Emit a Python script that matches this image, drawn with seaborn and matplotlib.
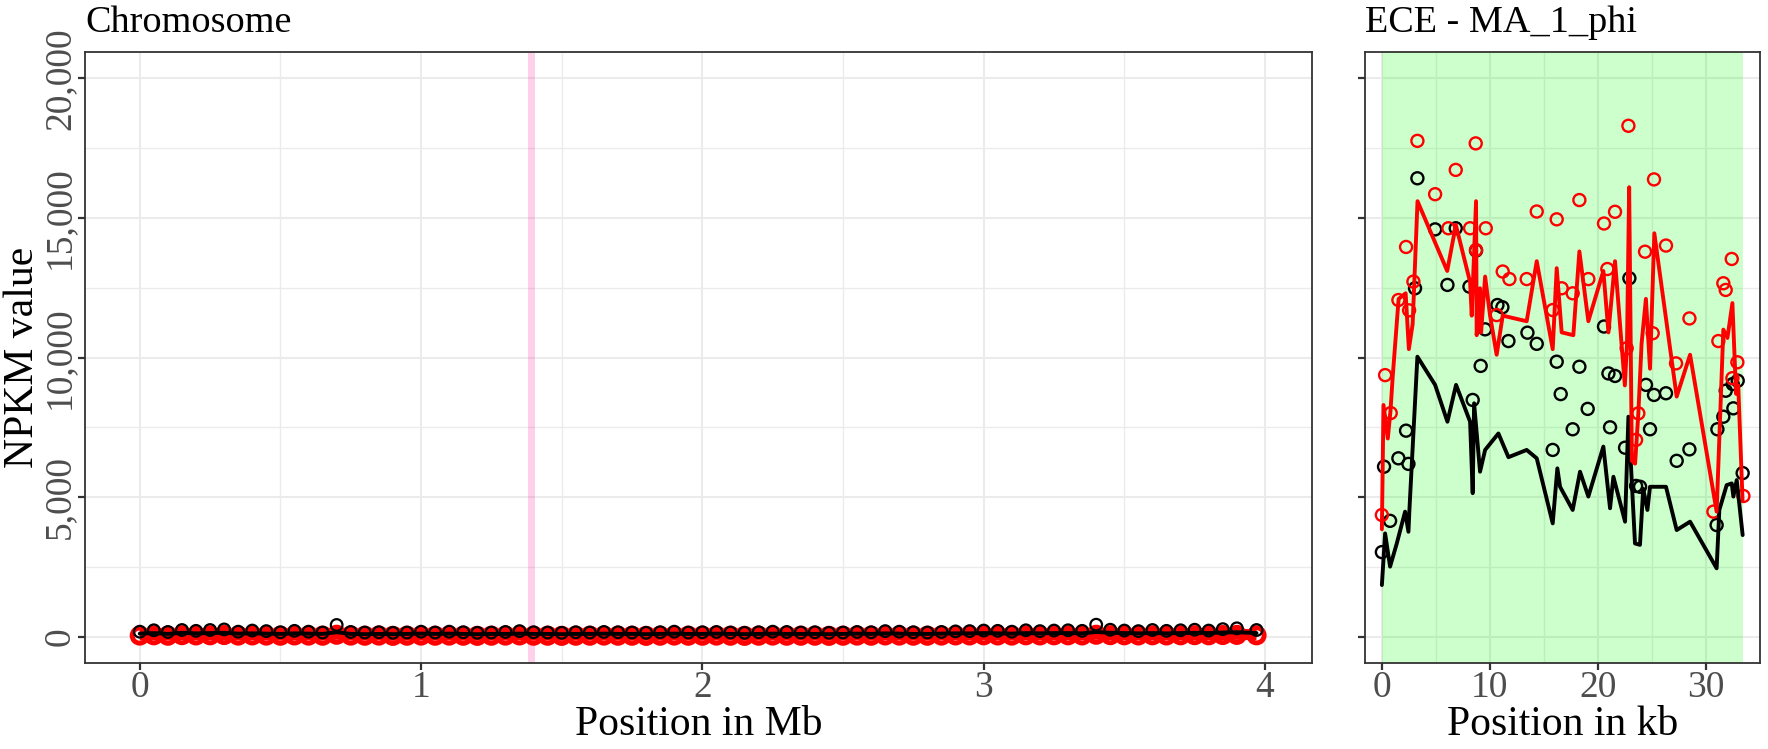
import numpy as np
import pandas as pd
import seaborn as sns
import matplotlib.pyplot as plt

# ---- chromosome panel (positions in Mb, NPKM values) ----
chrom_mb = [0.00, 0.05, 0.10, 0.15, 0.20, 0.25, 0.30, 0.35, 0.40, 0.45,
            0.50, 0.55, 0.60, 0.65, 0.70, 0.75, 0.80, 0.85, 0.90, 0.95,
            1.00, 1.05, 1.10, 1.15, 1.20, 1.25, 1.30, 1.35, 1.40, 1.45,
            1.50, 1.55, 1.60, 1.65, 1.70, 1.75, 1.80, 1.85, 1.90, 1.95,
            2.00, 2.05, 2.10, 2.15, 2.20, 2.25, 2.30, 2.35, 2.40, 2.45,
            2.50, 2.55, 2.60, 2.65, 2.70, 2.75, 2.80, 2.85, 2.90, 2.95,
            3.00, 3.05, 3.10, 3.15, 3.20, 3.25, 3.30, 3.35, 3.40, 3.45,
            3.50, 3.55, 3.60, 3.65, 3.70, 3.75, 3.80, 3.85, 3.90, 3.97]
chrom_black_pts = [180, 230, 170, 240, 210, 240, 260, 180, 220, 200,
                   160, 210, 180, 150, 420, 170, 150, 160, 140, 150,
                   180, 150, 180, 160, 140, 150, 170, 200, 160, 150,
                   140, 160, 150, 170, 160, 150, 140, 160, 180, 150,
                   160, 170, 150, 140, 160, 180, 170, 150, 160, 140,
                   150, 170, 160, 200, 180, 160, 150, 170, 190, 200,
                   220, 210, 180, 230, 200, 220, 230, 210, 430, 250,
                   220, 200, 240, 210, 230, 250, 220, 270, 300, 240]
chrom_black_line = [110, 130, 100, 140, 120, 130, 140, 110, 120, 110,
                    100, 120, 110, 100, 160, 100, 90, 100, 90, 100,
                    110, 100, 110, 100, 90, 100, 100, 110, 100, 100,
                    90, 100, 100, 110, 100, 100, 90, 100, 110, 100,
                    100, 110, 100, 90, 100, 110, 100, 100, 100, 90,
                    100, 110, 100, 120, 110, 100, 100, 110, 120, 120,
                    130, 120, 110, 130, 120, 130, 130, 120, 170, 140,
                    130, 120, 130, 120, 130, 140, 130, 150, 160, 130]
chrom_red_pts = [40, 50, 35, 55, 45, 50, 60, 40, 45, 40,
                 35, 45, 40, 35, 70, 40, 35, 40, 30, 35,
                 40, 35, 40, 35, 30, 35, 40, 45, 35, 35,
                 30, 35, 35, 40, 35, 35, 30, 35, 40, 35,
                 35, 40, 35, 30, 35, 40, 35, 35, 35, 30,
                 35, 40, 35, 45, 40, 35, 35, 40, 45, 45,
                 50, 45, 40, 50, 45, 50, 50, 45, 70, 55,
                 50, 45, 50, 45, 50, 55, 50, 60, 65, 50]
chrom_red_line = [60, 70, 55, 75, 65, 70, 80, 60, 65, 60,
                  55, 65, 60, 55, 90, 60, 55, 60, 50, 55,
                  60, 55, 60, 55, 50, 55, 60, 65, 55, 55,
                  50, 55, 55, 60, 55, 55, 50, 55, 60, 55,
                  55, 60, 55, 50, 55, 60, 55, 55, 55, 50,
                  55, 60, 55, 65, 60, 55, 55, 60, 65, 65,
                  70, 65, 60, 70, 65, 70, 70, 65, 90, 75,
                  70, 65, 70, 65, 70, 75, 70, 80, 85, 70]
ece_mark_mb = 1.39

# ---- ECE panel (positions in kb) ----
red_line_kb = [0.0, 0.15, 0.55, 0.8, 1.0, 1.55, 2.2, 2.5, 2.85, 3.3, 6.05, 6.85,
               8.17, 8.32, 8.72, 8.78, 9.09, 9.19, 9.56, 10.02, 10.63, 11.19,
               13.41, 14.34, 15.82, 16.19, 16.65, 17.73, 18.29, 19.12, 20.51,
               20.98, 21.59, 22.5, 22.7, 22.9, 23.15, 23.45, 23.75, 24.05, 24.45,
               24.83, 25.23, 27.3, 28.54, 31.0, 31.62, 32.0, 32.46, 32.8, 33.0, 33.4]
red_line_val = [3850, 8300, 7100, 8100, 9300, 12100, 12300, 10300, 11200, 15600, 13100, 14750,
                12700, 11500, 15600, 10800, 12480, 10900, 12900, 11500, 10100, 11500,
                11300, 13450, 10300, 13200, 10900, 10800, 13800, 11300, 13100,
                10900, 13450, 9000, 10500, 16100, 6300, 6200, 8000, 10500, 12100,
                9600, 14450, 8600, 10100, 4480, 11000, 10700, 11950, 8700, 9000, 4900]

black_line_kb = [0.0, 0.3, 0.76, 1.38, 2.15, 2.46, 2.55, 3.29, 4.93, 6.07, 6.87, 8.17,
                 8.41, 8.54, 9.09, 9.56, 10.79, 11.72, 13.41, 14.34, 15.82, 16.25,
                 16.5, 17.67, 18.35, 19.12, 20.51, 21.13, 21.44, 22.52, 22.83, 23.44,
                 23.9, 24.2, 24.59, 24.83, 25.3, 26.31, 27.3, 28.54, 31.0, 31.25,
                 31.93, 32.4, 32.55, 32.86, 33.41]
black_line_val = [1850, 3700, 2510, 3340, 4480, 3760, 4540, 10030, 9020, 7700, 9020, 7700,
                  5140, 8360, 5910, 6690, 7280, 6430, 6690, 6390, 4060, 6030,
                  5370, 4540, 5910, 5020, 6810, 4600, 5730, 4120, 7880, 3340,
                  3290, 5300, 4540, 5370, 5370, 5370, 3820, 4120, 2450, 4540,
                  5430, 5490, 5020, 5610, 3640]

red_pts_kb = [0.0, 0.30, 0.82, 1.53, 2.24, 2.52, 2.92, 3.29, 4.93, 6.16, 6.84, 8.17,
              8.69, 8.72, 9.62, 10.63, 11.19, 11.81, 13.41, 14.34, 15.82, 16.19,
              16.65, 17.67, 18.29, 19.12, 20.57, 20.88, 21.59, 22.67, 22.83, 23.54,
              23.75, 24.37, 25.08, 25.20, 26.31, 27.24, 28.48, 30.70, 31.16, 31.62,
              31.84, 32.40, 32.46, 32.92, 33.48]
red_pts_val = [4360, 9370, 8010, 12060, 13960, 11690, 12720, 17760, 15850, 14630, 16720, 14630,
               17670, 13850, 14630, 11520, 13080, 12810, 12810, 15230, 11700, 14950,
               12480, 12300, 15640, 12810, 14800, 13170, 15220, 10330, 18300, 7050,
               8000, 13790, 10870, 16380, 14010, 9790, 11400, 4480, 10590, 12660,
               12420, 13530, 9260, 9830, 5040]

black_pts_kb = [0.0, 0.20, 0.76, 1.53, 2.24, 2.46, 3.07, 3.29, 4.93, 6.07, 6.84, 8.11,
                8.41, 8.72, 9.15, 9.56, 10.70, 11.16, 11.72, 13.48, 14.34, 15.82,
                16.19, 16.56, 17.67, 18.29, 19.06, 20.57, 20.98, 21.13, 21.59, 22.52,
                22.92, 23.54, 23.91, 24.46, 24.83, 25.20, 26.31, 27.30, 28.48, 31.00,
                31.07, 31.62, 31.84, 32.49, 32.55, 32.95, 33.41]
black_pts_val = [3030, 6090, 4150, 6390, 7380, 6190, 12480, 16420, 14590, 12600, 14630, 12540,
                 8480, 13830, 9700, 11010, 11880, 11800, 10590, 10890, 10490, 6690,
                 9850, 8690, 7430, 9670, 8160, 11110, 9430, 7500, 9340, 6770,
                 12840, 5400, 5370, 9020, 7430, 8660, 8720, 6300, 6710, 4000,
                 7430, 7880, 8810, 9050, 8180, 9170, 5860]
ece_len_kb = 33.46

sns.set_theme(style="white")
plt.rcParams['font.family'] = ['Liberation Serif', 'DejaVu Serif']

tick_col = '#4D4D4D'
frame_col = '#333333'

fig = plt.figure(figsize=(17.68, 7.49), dpi=100)
ax1 = fig.add_axes([0.0481, 0.1144, 0.6938, 0.8158])
ax2 = fig.add_axes([0.7721, 0.1144, 0.2234, 0.8158])

for ax in (ax1, ax2):
    ax.set_axisbelow(True)
    ax.set_ylim(-953, 20933)
    ax.set_yticks([0, 5000, 10000, 15000, 20000])
    ax.set_yticks([2500, 7500, 12500, 17500], minor=True)
    ax.grid(which='major', color='#EBEBEB', linewidth=1.5)
    ax.grid(which='minor', color='#EBEBEB', linewidth=1.0)
    for sp in ax.spines.values():
        sp.set_color(frame_col)
        sp.set_linewidth(1.3)
    ax.tick_params(which='major', length=5, width=1.6, color=frame_col,
                   labelsize=27, labelcolor=tick_col, pad=0.5,
                   bottom=True, left=True)
    ax.tick_params(which='minor', length=0)

# chromosome panel: dense genome-wide track renders as a solid band
ax1.set_xlim(-0.1945, 4.166)
ax1.set_xticks([0, 1, 2, 3, 4])
ax1.set_xticks([0.5, 1.5, 2.5, 3.5], minor=True)
ax1.axvline(ece_mark_mb, color='deeppink', alpha=0.2, linewidth=5, zorder=1)
sns.scatterplot(x=chrom_mb, y=chrom_red_pts, ax=ax1, marker='o', s=120,
                facecolor='none', edgecolor='red', linewidth=3.5, zorder=2)
sns.lineplot(x=chrom_mb, y=chrom_red_line, ax=ax1, color='red', linewidth=8,
             solid_capstyle='butt', zorder=3)
sns.scatterplot(x=chrom_mb, y=chrom_black_pts, ax=ax1, marker='o', s=70,
                facecolor='none', edgecolor='black', linewidth=1.6, zorder=4)
sns.lineplot(x=chrom_mb, y=chrom_black_line, ax=ax1, color='black', linewidth=2.8, zorder=5)
ax1.set_yticklabels(['0', '5,000', '10,000', '15,000', '20,000'])
for lab in ax1.get_yticklabels():
    lab.set_rotation(90)
    lab.set_va('center')
ax1.set_xlabel('')
ax1.set_ylabel('')

# ECE panel
ax2.set_xlim(-1.556, 35.02)
ax2.set_xticks([0, 10, 20, 30])
ax2.set_xticks([5, 15, 25], minor=True)
ax2.axvspan(0, ece_len_kb, color=(0, 1, 0), alpha=0.2, linewidth=0, zorder=1)
sns.scatterplot(x=black_pts_kb, y=black_pts_val, ax=ax2, marker='o', s=75,
                facecolor='none', edgecolor='black', linewidth=1.7, zorder=2)
sns.scatterplot(x=red_pts_kb, y=red_pts_val, ax=ax2, marker='o', s=75,
                facecolor='none', edgecolor='red', linewidth=1.7, zorder=3)
sns.lineplot(x=black_line_kb, y=black_line_val, ax=ax2, color='black', linewidth=2.8, zorder=4)
sns.lineplot(x=red_line_kb, y=red_line_val, ax=ax2, color='red', linewidth=2.8, zorder=5)
ax2.set_yticklabels([])
ax2.set_xlabel('')
ax2.set_ylabel('')

# titles and axis labels
fig.text(0.0481, 0.970, 'Chromosome', fontsize=27.5, color='black', ha='left', va='center')
fig.text(0.7721, 0.970, 'ECE - MA_1_phi', fontsize=27.5, color='black', ha='left', va='center')
fig.text(0.395, 0.032, 'Position in Mb', fontsize=30, color='black', ha='center', va='center')
fig.text(0.8838, 0.032, 'Position in kb', fontsize=30, color='black', ha='center', va='center')
fig.text(0.013, 0.5223, 'NPKM value', fontsize=30, color='black', rotation=90,
         ha='center', va='center')

fig.savefig('out.png', dpi=100)
